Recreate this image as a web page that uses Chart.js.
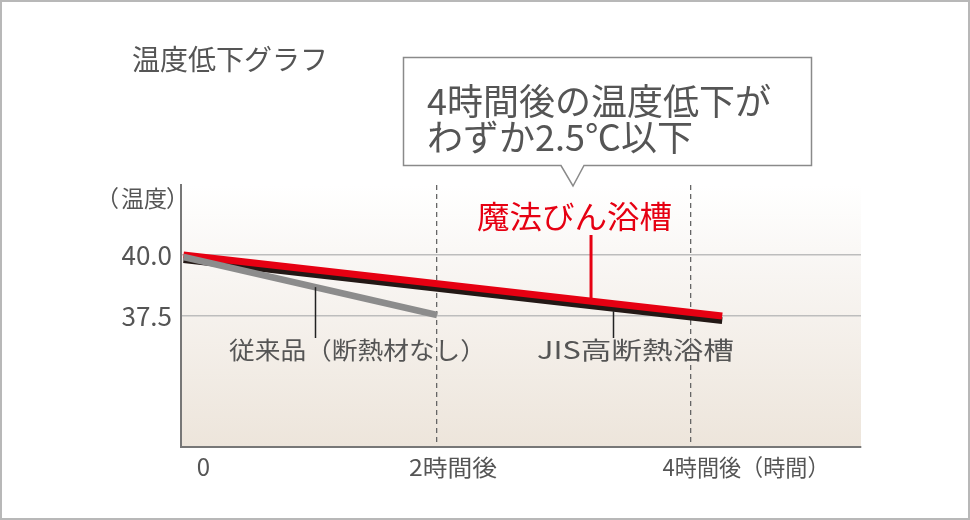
<!DOCTYPE html>
<html lang="ja">
<head>
<meta charset="utf-8">
<script src="https://cdn.jsdelivr.net/npm/chart.js@4.4.1/dist/chart.umd.min.js"></script>
<style>
  html, body { margin: 0; padding: 0; background: #fff; }
  #wrap { position: relative; width: 970px; height: 520px; }
  #frame { position: absolute; inset: 0; border: 2px solid #b8b8b8; pointer-events: none; }
</style>
</head>
<body>
<div id="wrap">
  <canvas id="chart" role="img" aria-label="温度低下グラフ"></canvas>
  <div id="frame"></div>
</div>
<script>
// 経過時間(h) と 湯温(℃)
const magicHours = [0, 4.25];
const magicTemps = [40.0, 37.5];
const jisHours = [0, 4.25];
const jisTemps = [39.82, 37.31];
const oldHours = [0, 2];
const oldTemps = [39.92, 37.54];

const xTickValues = [0, 2, 4];
const xTickLabels = ['0', '2時間後', '4時間後（時間）'];
const yTickValues = [40.0, 37.5];
const yTickLabels = ['40.0', '37.5'];

const FONT = "'Noto Sans CJK JP', 'Noto Sans', sans-serif";
const GREY_TEXT = '#555';
const RED = '#e60012';

const pts = (xs, ys) => xs.map((x, i) => ({ x, y: ys[i] }));
const at = (xs, ys, x) => ys[0] + (ys[ys.length - 1] - ys[0]) * (x - xs[0]) / (xs[xs.length - 1] - xs[0]);

function text(ctx, str, x, y, size, color, align = 'left', width = null) {
  ctx.save();
  ctx.font = size + 'px ' + FONT;
  ctx.fillStyle = color;
  ctx.textBaseline = 'middle';
  ctx.textAlign = 'left';
  const w = ctx.measureText(str).width;
  const sx = width ? width / w : 1;
  let left = x;
  if (align === 'right') left = x - w * sx;
  if (align === 'center') left = x - w * sx / 2;
  ctx.translate(left, y);
  ctx.scale(sx, 1);
  ctx.fillText(str, 0, 0);
  ctx.restore();
}

function vline(ctx, x, y1, y2, color, w) {
  ctx.save();
  ctx.strokeStyle = color;
  ctx.lineWidth = w;
  ctx.beginPath();
  ctx.moveTo(x, y1);
  ctx.lineTo(x, y2);
  ctx.stroke();
  ctx.restore();
}

const backdrop = {
  id: 'backdrop',
  beforeDraw(chart) {
    const { ctx, chartArea: a } = chart;
    ctx.save();
    ctx.fillStyle = '#fff';
    ctx.fillRect(0, 0, chart.width, chart.height);
    const g = ctx.createLinearGradient(0, a.top, 0, a.bottom);
    g.addColorStop(0, '#ffffff');
    g.addColorStop(0.35, '#f8f5f2');
    g.addColorStop(1, '#ede5db');
    ctx.fillStyle = g;
    ctx.fillRect(a.left, a.top, a.right - a.left, a.bottom - a.top);
    ctx.restore();
  }
};

const notes = {
  id: 'notes',
  afterDraw(chart) {
    const { ctx, scales: { x, y } } = chart;

    text(ctx, '温度低下グラフ', 132, 59, 28, GREY_TEXT);

    // 吹き出し
    ctx.save();
    ctx.fillStyle = '#fff';
    ctx.strokeStyle = '#8a8a8a';
    ctx.lineWidth = 1.5;
    ctx.beginPath();
    ctx.moveTo(403.5, 57.5);
    ctx.lineTo(811.5, 57.5);
    ctx.lineTo(811.5, 165.5);
    ctx.lineTo(584, 165.5);
    ctx.lineTo(573, 186);
    ctx.lineTo(561, 165.5);
    ctx.lineTo(403.5, 165.5);
    ctx.closePath();
    ctx.fill();
    ctx.stroke();
    ctx.restore();
    text(ctx, '4時間後の温度低下が', 427, 101, 36, GREY_TEXT);
    text(ctx, 'わずか2.5℃以下', 427, 137, 36, GREY_TEXT);

    // 軸ラベル（括弧は詰めて配置）
    text(ctx, '（', 96, 198, 23, GREY_TEXT);
    text(ctx, '温度', 121, 198, 23, GREY_TEXT);
    text(ctx, '）', 166, 198, 23, GREY_TEXT);
    yTickValues.forEach((v, i) => text(ctx, yTickLabels[i], 172, y.getPixelForValue(v), 26, GREY_TEXT, 'right'));
    xTickValues.forEach((v, i) => {
      const px = x.getPixelForValue(v);
      if (v === 0) text(ctx, xTickLabels[i], px + 20, 467, 24, GREY_TEXT, 'center');
      else text(ctx, xTickLabels[i], px - 28, 467, 23, GREY_TEXT, 'left', i === 1 ? 88 : 167);
    });

    // 系列ラベルと引き出し線
    const tOld = 1.04;
    const pxOld = Math.round(x.getPixelForValue(tOld)) + 0.5;
    vline(ctx, pxOld, y.getPixelForValue(at(oldHours, oldTemps, tOld)), 338, '#222', 1.5);
    text(ctx, '従来品（断熱材なし）', 229, 350, 24, GREY_TEXT, 'left', 257);

    const tMagic = 3.215;
    const pxMagic = x.getPixelForValue(tMagic);
    vline(ctx, pxMagic, 235, y.getPixelForValue(at(magicHours, magicTemps, tMagic)) - 3, RED, 3);
    text(ctx, '魔法びん浴槽', 477, 216, 31, RED, 'left', 195);

    const tJis = 3.39;
    const pxJis = Math.round(x.getPixelForValue(tJis)) + 0.5;
    vline(ctx, pxJis, y.getPixelForValue(at(jisHours, jisTemps, tJis)) + 3, 338, '#222', 1.5);
    text(ctx, 'JIS高断熱浴槽', 537, 350, 24, GREY_TEXT, 'left', 197);
  }
};

const line = (label, data, color, width) => ({
  label, data,
  borderColor: color,
  borderWidth: width,
  borderCapStyle: 'butt',
  pointRadius: 0,
  fill: false,
  tension: 0
});

new Chart(document.getElementById('chart'), {
  type: 'line',
  data: {
    datasets: [
      line('従来品（断熱材なし）', pts(oldHours, oldTemps), '#8c8c8c', 6.5),
      line('魔法びん浴槽', pts(magicHours, magicTemps), RED, 7),
      line('JIS高断熱浴槽', pts(jisHours, jisTemps), '#231815', 7)
    ]
  },
  options: {
    responsive: true,
    maintainAspectRatio: false,
    animation: false,
    events: [],
    layout: { padding: { left: 181, top: 185, right: 109, bottom: 73.5 } },
    plugins: { legend: { display: false }, tooltip: { enabled: false } },
    scales: {
      x: {
        type: 'linear',
        min: -0.02,
        max: 5.345,
        afterBuildTicks: s => { s.ticks = [{ value: 2 }, { value: 4 }]; },
        ticks: { display: false },
        grid: { color: '#666', lineWidth: 1.3, drawTicks: false },
        border: { display: true, color: '#777', width: 2, dash: [5, 4] }
      },
      y: {
        type: 'linear',
        min: 32.15,
        max: 42.87,
        afterBuildTicks: s => { s.ticks = yTickValues.map(v => ({ value: v })); },
        ticks: { display: false },
        grid: { color: '#bdbdbd', lineWidth: 1.5, drawTicks: false },
        border: { display: true, color: '#777', width: 2 }
      }
    }
  },
  plugins: [backdrop, notes]
});
</script>
</body>
</html>
